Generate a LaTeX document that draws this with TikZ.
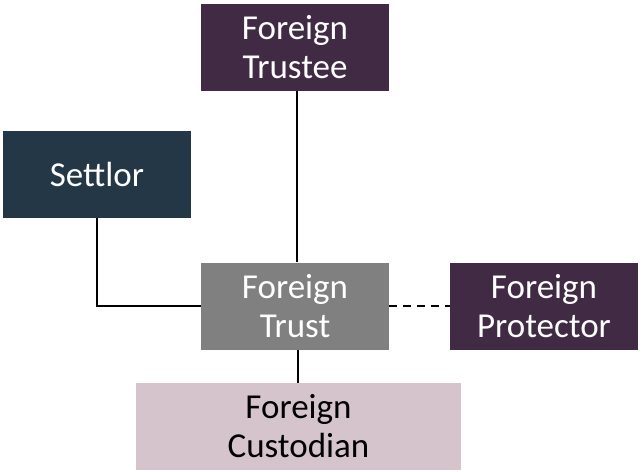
\documentclass[tikz,border=0pt]{standalone}
\usepackage{fontspec}
\setmainfont{Carlito}
\definecolor{plum}{HTML}{412B44}
\definecolor{navy}{HTML}{243746}
\definecolor{midgray}{HTML}{808080}
\definecolor{blush}{HTML}{D6C4CC}
\begin{document}
\begin{tikzpicture}[x=1pt,y=-1pt,
  box/.style={rectangle, inner sep=0pt, align=center,
    font=\fontsize{35}{39}\selectfont, text=white},
  link/.style={line width=2pt, black}]
\useasboundingbox (0,0) rectangle (642,471);
\node[box, fill=plum, minimum width=188pt, minimum height=87pt] (trustee) at (295,47.5) {Foreign\\Trustee};
\node[box, fill=navy, minimum width=188pt, minimum height=87pt] (settlor) at (97,174) {Settlor};
\node[box, fill=midgray, minimum width=188pt, minimum height=87pt] (trust) at (295,306) {Foreign\\Trust};
\node[box, fill=plum, minimum width=188pt, minimum height=87pt] (protector) at (544,306) {Foreign\\Protector};
\node[box, fill=blush, text=black, minimum width=325pt, minimum height=87pt] (custodian) at (298.5,426.5) {Foreign\\Custodian};
\draw[link] (trustee.south -| 297,0) -- (trust.north -| 297,0);
\draw[link] (settlor.south) |- (trust.west);
\draw[link, dashed, dash pattern=on 8pt off 6pt] (trust.east) -- (protector.west);
\draw[link] (trust.south -| 298,0) -- (custodian.north -| 298,0);
\end{tikzpicture}
\end{document}
